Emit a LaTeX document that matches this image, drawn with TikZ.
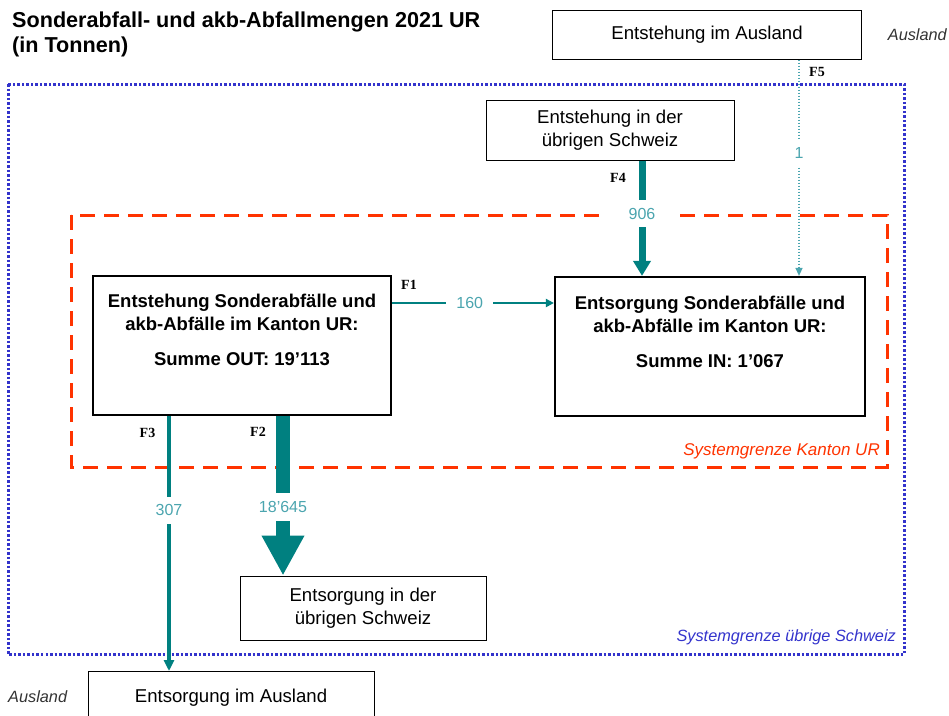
\documentclass[tikz,border=0pt]{standalone}
\usepackage{fontspec}
\setmainfont{Liberation Sans}
\newfontfamily\flowfont{Liberation Serif}
\usetikzlibrary{arrows.meta,positioning}

\definecolor{flowteal}{RGB}{0,128,128}
\definecolor{numteal}{RGB}{75,165,175}
\definecolor{kantonred}{RGB}{255,51,0}
\definecolor{schweizblue}{RGB}{51,51,204}

\tikzset{
  plainbox/.style={draw=black, line width=1pt, fill=white, inner sep=0pt, align=center,
    font=\fontsize{18.6}{23.5}\selectfont},
  kantonbox/.style={draw=black, line width=2.2pt, fill=white, inner sep=0pt},
  kantontext/.style={align=center, inner sep=0pt, font=\fontsize{18.5}{22.5}\selectfont\bfseries},
  flowlabel/.style={inner sep=0pt, font=\fontsize{14}{14}\selectfont\flowfont\bfseries},
  amount/.style={fill=white, text=numteal, inner xsep=10pt, inner ysep=8pt,
    font=\fontsize{16}{16}\selectfont},
  zonelabel/.style={inner sep=0pt, font=\fontsize{16.3}{16}\selectfont\itshape},
}

\begin{document}
\begin{tikzpicture}[x=1pt, y=-1pt]

    \useasboundingbox (0,0) rectangle (949,715);
    \clip (0,0) rectangle (949,715);

    % Title
    \node[anchor=north west, align=left, inner sep=0pt, font=\fontsize{21.6}{25}\selectfont\bfseries] (title) at (12,12)
        {Sonderabfall- und akb-Abfallmengen 2021 UR\\(in Tonnen)};

    % System boundaries
    \draw[schweizblue, line width=3pt, dash pattern=on 2.5pt off 2pt] (8,84) rectangle (904,654);
    \draw[kantonred, line width=3pt, dash pattern=on 15pt off 9pt] (71,215) rectangle (887,467);
    \node[zonelabel, text=kantonred, anchor=east, font=\fontsize{17}{17}\selectfont\itshape] (zoneUR) at (880,451) {Systemgrenze Kanton UR};
    \node[zonelabel, text=schweizblue, anchor=east] (zoneCH) at (896,637) {Systemgrenze übrige Schweiz};
    \node[zonelabel, text=black!80, anchor=east] (zoneAusTop) at (947,35) {Ausland};
    \node[zonelabel, text=black!80, anchor=west] (zoneAusBot) at (8,697) {Ausland};

    % Boxes
    \node[plainbox, minimum width=309pt, minimum height=49pt] (ausEnt) at (707,34.5) {Entstehung im Ausland};
    \node[plainbox, minimum width=248pt, minimum height=60pt] (chEnt) at (610,130) {Entstehung in der\\übrigen Schweiz};
    \node[kantonbox, minimum width=298pt, minimum height=139pt] (urEnt) at (242,345.5) {};
    \node[kantontext, below=19pt of urEnt.north] (urEntText)
        {Entstehung Sonderabfälle und\\akb-Abfälle im Kanton UR:\\[13pt]Summe OUT: 19’113};
    \node[kantonbox, minimum width=310pt, minimum height=139pt] (urEts) at (710,346.5) {};
    \node[kantontext, below=20pt of urEts.north] (urEtsText)
        {Entsorgung Sonderabfälle und\\akb-Abfälle im Kanton UR:\\[13pt]Summe IN: 1’067};
    \node[plainbox, minimum width=246pt, minimum height=64pt] (chEts) at (363,608) {Entsorgung in der\\übrigen Schweiz};
    \node[plainbox, minimum width=286pt, minimum height=52pt, anchor=north] (ausEts) at (231,671) {Entsorgung im Ausland};

    % Flows
    \coordinate (f1y) at (0,303);
    \coordinate (f2x) at (283,0);
    \coordinate (f3x) at (169,0);
    \coordinate (f4x) at (642,0);
    \coordinate (f5x) at (799,0);

    \draw[flowteal, line width=2pt, -{Triangle[width=8pt,length=8pt]}]
        (urEnt.east |- f1y) -- node[amount, pos=0.48] {160} (urEts.west |- f1y);
    \draw[flowteal, line width=14pt, -{Triangle[width=40pt,length=40pt]}]
        (urEnt.south -| f2x) -- node[amount, pos=0.57] {18’645} (chEts.north -| f2x);
    \draw[flowteal, line width=3.5pt, -{Triangle[width=10pt,length=11pt]}]
        (urEnt.south -| f3x) -- node[amount, pos=0.37] {307} (ausEts.north -| f3x);
    \draw[flowteal, line width=7pt, -{Triangle[width=17pt,length=15pt]}]
        (chEnt.south -| f4x) -- node[amount, pos=0.46, inner xsep=22pt] {906} (urEts.north -| f4x);
    \draw[numteal, line width=1.3pt, dash pattern=on 1.5pt off 1.5pt, -{Triangle[width=7pt,length=8pt]}]
        (ausEnt.south -| f5x) -- node[amount, pos=0.43] {1} (urEts.north -| f5x);

    \node[flowlabel] (lblF1) at (409,284.5) {F1};
    \node[flowlabel] (lblF2) at (258,431.5) {F2};
    \node[flowlabel] (lblF3) at (147.5,432.5) {F3};
    \node[flowlabel] (lblF4) at (618,178) {F4};
    \node[flowlabel] (lblF5) at (817,72) {F5};
\end{tikzpicture}
\end{document}
